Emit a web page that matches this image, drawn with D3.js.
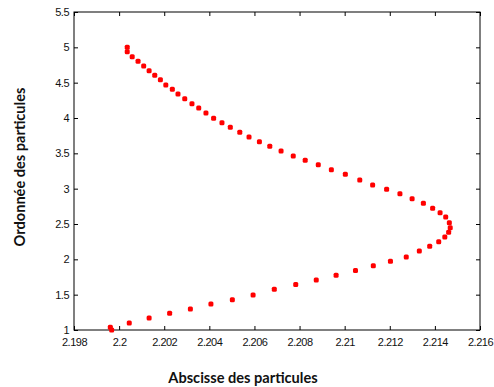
<!DOCTYPE html>
<html><head><meta charset="utf-8">
<script src="https://cdn.jsdelivr.net/npm/d3@7"></script>
<style>body{margin:0;background:#fff}svg{display:block}</style>
</head><body>
<script>
const xValues = [2.19967,2.19961,2.20045,2.20133,2.20224,2.20316,2.20407,2.20502,2.20594,2.20688,2.20783,2.20874,2.20962,2.21048,2.21127,2.21203,2.21273,2.21331,2.21377,2.21417,2.21444,2.21461,2.21468,2.21464,2.21448,2.21423,2.21390,2.21349,2.21299,2.21245,2.21186,2.21124,2.21067,2.21003,2.20941,2.20883,2.20825,2.20772,2.20718,2.20668,2.20622,2.20576,2.20535,2.20493,2.20456,2.20419,2.20385,2.20353,2.20323,2.20291,2.20261,2.20236,2.20207,2.20183,2.20158,2.20133,2.20109,2.20084,2.20058,2.20036,2.20036];
const yValues = [1.0,1.038,1.099,1.170,1.236,1.297,1.368,1.429,1.495,1.576,1.644,1.708,1.775,1.842,1.908,1.974,2.033,2.118,2.184,2.250,2.316,2.383,2.448,2.518,2.599,2.660,2.722,2.793,2.858,2.929,2.991,3.052,3.123,3.203,3.268,3.339,3.401,3.462,3.533,3.600,3.665,3.731,3.798,3.868,3.932,3.996,4.071,4.142,4.202,4.273,4.340,4.406,4.467,4.542,4.604,4.669,4.736,4.802,4.868,4.938,5.0];
const xTicks = [2.198,2.2,2.202,2.204,2.206,2.208,2.21,2.212,2.214,2.216];
const yTicks = [1,1.5,2,2.5,3,3.5,4,4.5,5,5.5];
const xTitle = "Abscisse des particules";
const yTitle = "Ordonnée des particules";

const W = 494, H = 387;
const L = 74, R = 480, T = 12, B = 330;
const svg = d3.select("body").append("svg").attr("width", W).attr("height", H);
const x = d3.scaleLinear().domain([2.198, 2.216]).range([L, R]);
const y = d3.scaleLinear().domain([1, 5.5]).range([B, T]);

const fmt = d => String(+d.toFixed(3));
const tickFont = "'Liberation Sans', Arial, sans-serif";

function styleAxis(g, showLabels) {
  g.select(".domain").remove();
  g.selectAll(".tick line").attr("stroke", "#000").attr("stroke-width", 1);
  g.selectAll(".tick text").attr("fill", "#111").style("font-family", tickFont)
    .style("font-size", "11px").style("letter-spacing", "-0.5px");
  if (!showLabels) g.selectAll(".tick text").remove();
}

svg.append("g").attr("transform", `translate(0,${B})`)
  .call(d3.axisBottom(x).tickValues(xTicks).tickFormat(fmt).tickSizeInner(-4).tickSizeOuter(0).tickPadding(8))
  .call(g => styleAxis(g, true));
svg.append("g").attr("transform", `translate(0,${T})`)
  .call(d3.axisTop(x).tickValues(xTicks).tickSizeInner(-4).tickSizeOuter(0))
  .call(g => styleAxis(g, false));
svg.append("g").attr("transform", `translate(${L},0)`)
  .call(d3.axisLeft(y).tickValues(yTicks).tickFormat(fmt).tickSizeInner(-4).tickSizeOuter(0).tickPadding(5))
  .call(g => styleAxis(g, true));
svg.append("g").attr("transform", `translate(${R},0)`)
  .call(d3.axisRight(y).tickValues(yTicks).tickSizeInner(-4).tickSizeOuter(0))
  .call(g => styleAxis(g, false));

svg.append("rect").attr("x", L).attr("y", T).attr("width", R - L).attr("height", B - T)
  .attr("fill", "none").attr("stroke", "#000").attr("stroke-width", 1);

const pts = xValues.map((v, i) => [v, yValues[i]]);
svg.append("g").selectAll("rect").data(pts).join("rect")
  .attr("x", d => x(d[0]) - 2.5).attr("y", d => y(d[1]) - 2.5)
  .attr("width", 5).attr("height", 5).attr("rx", 1.5)
  .attr("fill", "#ff0000");

const titleFont = "Lato, 'Open Sans', sans-serif";
svg.append("text").attr("x", 243).attr("y", 383).attr("text-anchor", "middle")
  .style("font-family", titleFont).style("font-weight", "bold").style("font-size", "14.6px")
  .attr("fill", "#111").text(xTitle);
svg.append("text").attr("transform", "translate(25,167) rotate(-90)").attr("text-anchor", "middle")
  .style("font-family", titleFont).style("font-weight", "bold").style("font-size", "14.6px")
  .attr("fill", "#111").text(yTitle);
</script>
</body></html>
